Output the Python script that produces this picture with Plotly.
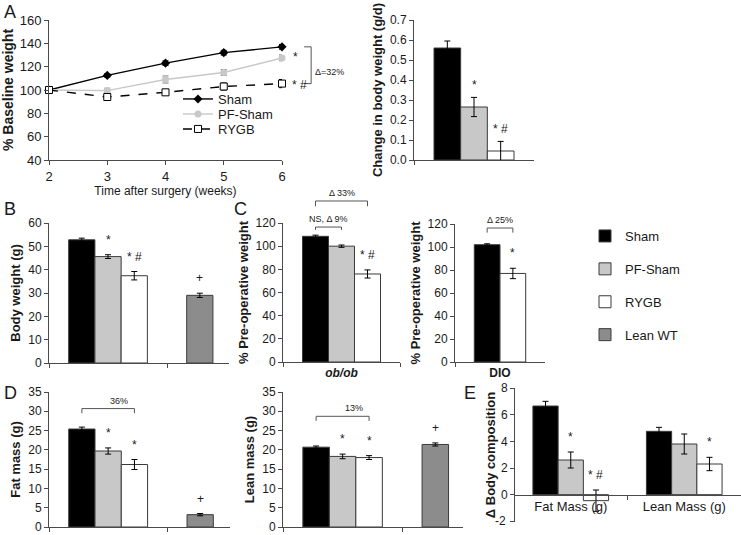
import plotly.graph_objects as go

W, H = 741, 535
FONT = "Liberation Sans"

# ---------------- data ----------------
weeks = [2, 3, 4, 5, 6]
sham_pct = [100, 112.5, 123, 132, 137]
sham_pct_err = [0, 1.5, 2.0, 2.0, 2.0]
pf_pct = [100, 99.5, 109, 115, 127.5]
pf_pct_err = [0, 2.0, 3.0, 2.5, 2.5]
rygb_pct = [100, 94, 98, 103, 105.5]
rygb_pct_err = [0, 2.0, 2.0, 3.0, 3.5]

surgery_groups = ["Sham", "PF-Sham", "RYGB"]
gain_gd = [0.56, 0.265, 0.045]
gain_gd_err = [0.035, 0.048, 0.048]
gain_marks = ["", "*", "* #"]

all_groups = ["Sham", "PF-Sham", "RYGB", "Lean WT"]
cluster_cats = ["ob/ob", "lean"]
body_weight = [52.8, 45.6, 37.4, 29.0]
body_weight_err = [0.7, 0.8, 1.8, 0.9]
body_weight_marks = ["", "*", "* #", "+"]

obob_preop = [108.5, 100.0, 76.0]
obob_preop_err = [1.0, 1.0, 3.5]
obob_marks = ["", "", "* #"]

dio_groups = ["Sham", "RYGB"]
dio_preop = [102.0, 77.0]
dio_preop_err = [0.8, 4.5]
dio_marks = ["", "*"]

fat_mass = [25.4, 19.7, 16.2, 3.2]
fat_mass_err = [0.5, 0.8, 1.3, 0.3]
fat_marks = ["", "*", "*", "+"]
lean_mass = [20.7, 18.3, 18.0, 21.4]
lean_mass_err = [0.3, 0.6, 0.5, 0.4]
lean_marks = ["", "*", "*", "+"]

comp_categories = ["Fat Mass (g)", "Lean Mass (g)"]
comp_ticks = [-2, 0, 2, 4, 6, 8]
delta_fat = [6.65, 2.6, -0.45]
delta_fat_err = [0.35, 0.6, 0.8]
delta_fat_marks = ["", "*", "* #"]
delta_lean = [4.75, 3.8, 2.3]
delta_lean_err = [0.3, 0.75, 0.5]
delta_lean_marks = ["", "", "*"]

# ---------------- style ----------------
COLORS = {"Sham": "#000000", "PF-Sham": "#c8c8c8", "RYGB": "#ffffff", "Lean WT": "#8c8c8c"}
AXC = "#4a4a4a"
TXT = "#1a1a1a"

# panel boxes in pixels (x0, x1), (y0, y1) measured from top-left
BOX = {
    1: ((49, 282), (20, 160)),
    2: ((414, 534), (20, 160)),
    3: ((49, 229), (223, 363)),
    4: ((283, 400), (223, 362)),
    5: ((455, 545), (224, 362)),
    6: ((49, 230), (392, 527)),
    7: ((283, 463), (392, 527)),
    8: ((514, 741), (388, 522)),
}
XR = {1: [2, 6], 2: [-0.5, 0.5], 3: [-0.5, 1.025], 4: [-0.5, 0.5], 5: [-0.5, 0.5],
      6: [-0.5, 1.03], 7: [-0.5, 1.01], 8: [-0.5, 1.5]}
YR = {1: [40, 160], 2: [0, 0.7], 3: [0, 60], 4: [0, 120], 5: [0, 120],
      6: [0, 35], 7: [0, 35], 8: [-2.05, 8]}


def aid(n):
    return "" if n == 1 else str(n)


def xdom(n):
    a, b = BOX[n][0]
    return [a / W, b / W]


def ydom(n):
    a, b = BOX[n][1]
    return [1 - b / H, 1 - a / H]


def fx(n, v):
    r = XR[n]
    return (v - r[0]) / (r[1] - r[0])


def fy(n, v):
    r = YR[n]
    return (v - r[0]) / (r[1] - r[0])


fig = go.Figure()
annotations = []
shapes = []


def bar(n, cat, group, val, err, slot, nslots, showlegend=False):
    w = 1 / (nslots + 1.5)
    off = (slot - nslots / 2) * w
    fig.add_trace(go.Bar(
        x=[cat], y=[val], width=w, offset=off, name=group,
        marker=dict(color=COLORS[group], line=dict(color="#3a3a3a", width=1)),
        error_y=dict(type="data", array=[err], color="#000", thickness=1, width=3),
        xaxis="x" + aid(n), yaxis="y" + aid(n),
        legend="legend2", legendgroup=group, showlegend=showlegend,
    ))


def mark(n, cat_idx, slot, nslots, top, text, yshift=3, size=12):
    if not text:
        return
    w = 1 / (nslots + 1.5)
    xc = cat_idx + (slot - nslots / 2 + 0.5) * w
    annotations.append(dict(
        xref="x%s domain" % aid(n), yref="y%s domain" % aid(n),
        x=fx(n, xc), y=fy(n, top), text=text, showarrow=False,
        yanchor="bottom", xanchor="center", yshift=yshift,
        font=dict(size=size, family=FONT, color=TXT)))


def bracket(n, x0, x1, ytop, leg, label, size=9):
    X0, X1 = fx(n, x0), fx(n, x1)
    Yt, Yb = fy(n, ytop), fy(n, ytop - leg)
    shapes.append(dict(type="path", xref="x%s domain" % aid(n), yref="y%s domain" % aid(n),
                       path="M %f,%f L %f,%f L %f,%f L %f,%f" % (X0, Yb, X0, Yt, X1, Yt, X1, Yb),
                       line=dict(color="#555", width=1)))
    annotations.append(dict(xref="x%s domain" % aid(n), yref="y%s domain" % aid(n),
                            x=(X0 + X1) / 2, y=Yt, yanchor="bottom", yshift=1, showarrow=False,
                            text=label, font=dict(size=size, family=FONT, color=TXT)))


def slot_x(cat_idx, slot, nslots):
    w = 1 / (nslots + 1.5)
    return cat_idx + (slot - nslots / 2 + 0.5) * w


# ---------------- Panel A: line chart ----------------
line_specs = [
    ("Sham", sham_pct, sham_pct_err, "#000000", "solid", dict(symbol="diamond", size=7, color="#000"), "legend"),
    ("PF-Sham", pf_pct, pf_pct_err, "#c8c8c8", "solid", dict(symbol="circle", size=7, color="#c8c8c8"), "legend3"),
    ("RYGB", rygb_pct, rygb_pct_err, "#000000", "dash",
     dict(symbol="square", size=7, color="#fff", line=dict(color="#000", width=1)), "legend4"),
]
for name, ys, es, col, dash, mk, lg in line_specs:
    fig.add_trace(go.Scatter(
        x=weeks, y=ys, name=name, mode="lines+markers", cliponaxis=False,
        line=dict(color=col, width=1.4, dash=dash), marker=mk,
        error_y=dict(type="data", array=es, color="#777" if name == "PF-Sham" else "#000",
                     thickness=1, width=3),
        xaxis="x", yaxis="y", legend=lg, showlegend=True))

annotations.append(dict(xref="x", yref="y", x=weeks[-1], y=pf_pct[-1] + 1, text="*", showarrow=False,
                        xshift=13, font=dict(size=12, family=FONT, color=TXT)))
annotations.append(dict(xref="x", yref="y", x=weeks[-1], y=rygb_pct[-1] - 1, text="* #", showarrow=False,
                        xshift=17, font=dict(size=12, family=FONT, color=TXT)))
# delta bracket on right of line chart
bx0 = fx(1, 6.38)
bx1 = fx(1, 6.5)
shapes.append(dict(type="path", xref="x domain", yref="y domain",
                   path="M %f,%f L %f,%f L %f,%f L %f,%f" % (bx0, fy(1, sham_pct[-1]), bx1, fy(1, sham_pct[-1]),
                                                           bx1, fy(1, rygb_pct[-1]), bx0, fy(1, rygb_pct[-1])),
                   line=dict(color="#555", width=1)))
annotations.append(dict(xref="x domain", yref="y domain", x=fx(1, 6.54),
                        y=fy(1, (sham_pct[-1] + rygb_pct[-1]) / 2), xanchor="left", showarrow=False,
                        text="Δ=32%", font=dict(size=9, family=FONT, color=TXT)))

# ---------------- Panel A: gain bar ----------------
for i, g in enumerate(surgery_groups):
    bar(2, "gain", g, gain_gd[i], gain_gd_err[i], i, 3)
    mark(2, 0, i, 3, gain_gd[i] + gain_gd_err[i], gain_marks[i], yshift=3)

# ---------------- Panel B ----------------
for i, g in enumerate(all_groups):
    cat_idx = 0 if g != "Lean WT" else 1
    slot = i if g != "Lean WT" else 0
    bar(3, cluster_cats[cat_idx], g, body_weight[i], body_weight_err[i], slot, 3, showlegend=True)
    mark(3, cat_idx, slot, 3, body_weight[i] + body_weight_err[i], body_weight_marks[i], yshift=6)

# ---------------- Panel C ob/ob ----------------
for i, g in enumerate(surgery_groups):
    bar(4, "ob/ob", g, obob_preop[i], obob_preop_err[i], i, 3)
    mark(4, 0, i, 3, obob_preop[i] + obob_preop_err[i], obob_marks[i], yshift=6)
bracket(4, slot_x(0, 0, 3), slot_x(0, 1, 3), 116.5, 2.5, "NS, Δ 9%")
bracket(4, slot_x(0, 0, 3), slot_x(0, 2, 3), 139, 4.5, "Δ 33%")

# ---------------- Panel C DIO ----------------
for i, g in enumerate(dio_groups):
    bar(5, "DIO", g, dio_preop[i], dio_preop_err[i], i, 2)
    mark(5, 0, i, 2, dio_preop[i] + dio_preop_err[i], dio_marks[i], yshift=6)
bracket(5, slot_x(0, 0, 2), slot_x(0, 1, 2), 116.5, 4, "Δ 25%")

# ---------------- Panel D fat / lean ----------------
for i, g in enumerate(all_groups):
    cat_idx = 0 if g != "Lean WT" else 1
    slot = i if g != "Lean WT" else 0
    bar(6, cluster_cats[cat_idx], g, fat_mass[i], fat_mass_err[i], slot, 3)
    mark(6, cat_idx, slot, 3, fat_mass[i] + fat_mass_err[i], fat_marks[i], yshift=6)
    bar(7, cluster_cats[cat_idx], g, lean_mass[i], lean_mass_err[i], slot, 3)
    mark(7, cat_idx, slot, 3, lean_mass[i] + lean_mass_err[i], lean_marks[i], yshift=6)
bracket(6, slot_x(0, 0, 3), slot_x(0, 2, 3), 30.7, 1.2, "36%")
bracket(7, slot_x(0, 0, 3), slot_x(0, 2, 3), 28.7, 1.2, "13%")

# ---------------- Panel E ----------------
for i, g in enumerate(surgery_groups):
    w = 1 / 4.5
    fig.add_trace(go.Bar(
        x=comp_categories, y=[delta_fat[i], delta_lean[i]], width=w, offset=(i - 1.5) * w, name=g,
        marker=dict(color=COLORS[g], line=dict(color="#3a3a3a", width=1)),
        error_y=dict(type="data", array=[delta_fat_err[i], delta_lean_err[i]], color="#000",
                     thickness=1, width=3),
        xaxis="x8", yaxis="y8", showlegend=False, legend="legend2"))
    mark(8, 0, i, 3, delta_fat[i] + delta_fat_err[i], delta_fat_marks[i], yshift=6)
    mark(8, 1, i, 3, delta_lean[i] + delta_lean_err[i], delta_lean_marks[i], yshift=6)

# lowest tick label of panel E as paper-referenced text
d8 = ydom(8)
annotations.append(dict(xref="paper", yref="paper", x=xdom(8)[0],
                        y=d8[0] + fy(8, comp_ticks[0]) * (d8[1] - d8[0]),
                        xanchor="right", yanchor="middle", xshift=-6, showarrow=False,
                        text=str(comp_ticks[0]), font=dict(size=12, family=FONT, color=TXT)))

# ---------------- axes ----------------
tickfont = dict(size=12, family=FONT, color=TXT)
common = dict(showline=True, linecolor=AXC, linewidth=1, ticks="outside", tickcolor=AXC,
              ticklen=4, showgrid=False, zeroline=False, tickfont=tickfont, automargin=False,
              ticklabeloverflow="allow")


def ytitle(t, size=13, standoff=4):
    return dict(text="<b>%s</b>" % t, font=dict(size=size, family=FONT, color=TXT), standoff=standoff)


layout = dict(
    width=W, height=H, margin=dict(l=0, r=0, t=0, b=0),
    paper_bgcolor="white", plot_bgcolor="white", showlegend=True,
    barmode="overlay", font=dict(family=FONT, color=TXT),
)

layout["xaxis"] = dict(common, domain=xdom(1), range=XR[1], anchor="y", dtick=1,
                       tickfont=dict(size=13, family=FONT, color=TXT),
                       title=dict(text="Time after surgery (weeks)", font=dict(size=12, family=FONT, color=TXT),
                                  standoff=4))
layout["yaxis"] = dict(common, domain=ydom(1), range=YR[1], anchor="x", dtick=20,
                       tickfont=dict(size=13, family=FONT, color=TXT),
                       title=ytitle("% Baseline weight", 14))

cat_axes = {
    2: (["gain"], False, "Change in body weight (g/d)", 0.1),
    3: (cluster_cats, False, "Body weight (g)", 10),
    4: (["ob/ob"], True, "% Pre-operative weight", 20),
    5: (["DIO"], True, "% Pre-operative weight", 20),
    6: (cluster_cats, False, "Fat mass (g)", 5),
    7: (cluster_cats, False, "Lean mass (g)", 5),
    8: (comp_categories, True, "Δ Body composition", 2),
}
for n, (cats, showlab, ttl, dt) in cat_axes.items():
    xa = dict(common, domain=xdom(n), range=XR[n], type="category", categoryorder="array",
              categoryarray=cats, tickson="boundaries", showticklabels=showlab, anchor="y" + aid(n))
    ya = dict(common, domain=ydom(n), range=YR[n], dtick=dt, anchor="x" + aid(n),
              title=ytitle(ttl, standoff=(1 if n == 8 else 4)))
    if n == 2:
        ya["tickformat"] = ".1f"
    if n == 4:
        xa["tickvals"] = ["ob/ob"]
        xa["ticktext"] = ["<b><i>ob/ob</i></b>"]
    if n == 5:
        xa["tickvals"] = ["DIO"]
        xa["ticktext"] = ["<b>DIO</b>"]
    if n == 8:
        xa["anchor"] = "free"
        xa["position"] = d8[0] + fy(8, 0) * (d8[1] - d8[0])
        xa["tickfont"] = dict(size=13, family=FONT, color=TXT)
        ya.pop("dtick")
        ya["tickmode"] = "array"
        ya["tickvals"] = comp_ticks
        ya["ticktext"] = [""] + [str(v) for v in comp_ticks[1:]]
        ya["anchor"] = "free"
        ya["position"] = xdom(8)[0]
    layout["xaxis" + aid(n)] = xa
    layout["yaxis" + aid(n)] = ya

lfont = dict(size=13, family=FONT, color=TXT)
for lg, py in (("legend", 99), ("legend3", 114), ("legend4", 129)):
    layout[lg] = dict(x=178 / W, y=1 - py / H, xanchor="left", yanchor="middle", bgcolor="rgba(0,0,0,0)",
                      font=lfont, itemwidth=30, borderwidth=0, visible=True)
layout["legend2"] = dict(x=585 / W, y=1 - 221 / H, xanchor="left", yanchor="top", bgcolor="rgba(0,0,0,0)",
                         font=dict(size=13, family=FONT, color=TXT), tracegroupgap=13, visible=True)

for t, (px, py) in {"A": (10, 12), "B": (10, 209), "C": (240, 209), "D": (10, 393), "E": (470, 393)}.items():
    annotations.append(dict(xref="paper", yref="paper", x=px / W, y=1 - py / H, text=t, showarrow=False,
                            xanchor="center", yanchor="middle", font=dict(size=18, family=FONT, color=TXT)))

layout["annotations"] = annotations
layout["shapes"] = shapes
fig.update_layout(**layout)
fig.write_html("out.html", config={"displayModeBar": False},
               post_script="document.body.style.margin='0';document.body.style.overflow='hidden';")
